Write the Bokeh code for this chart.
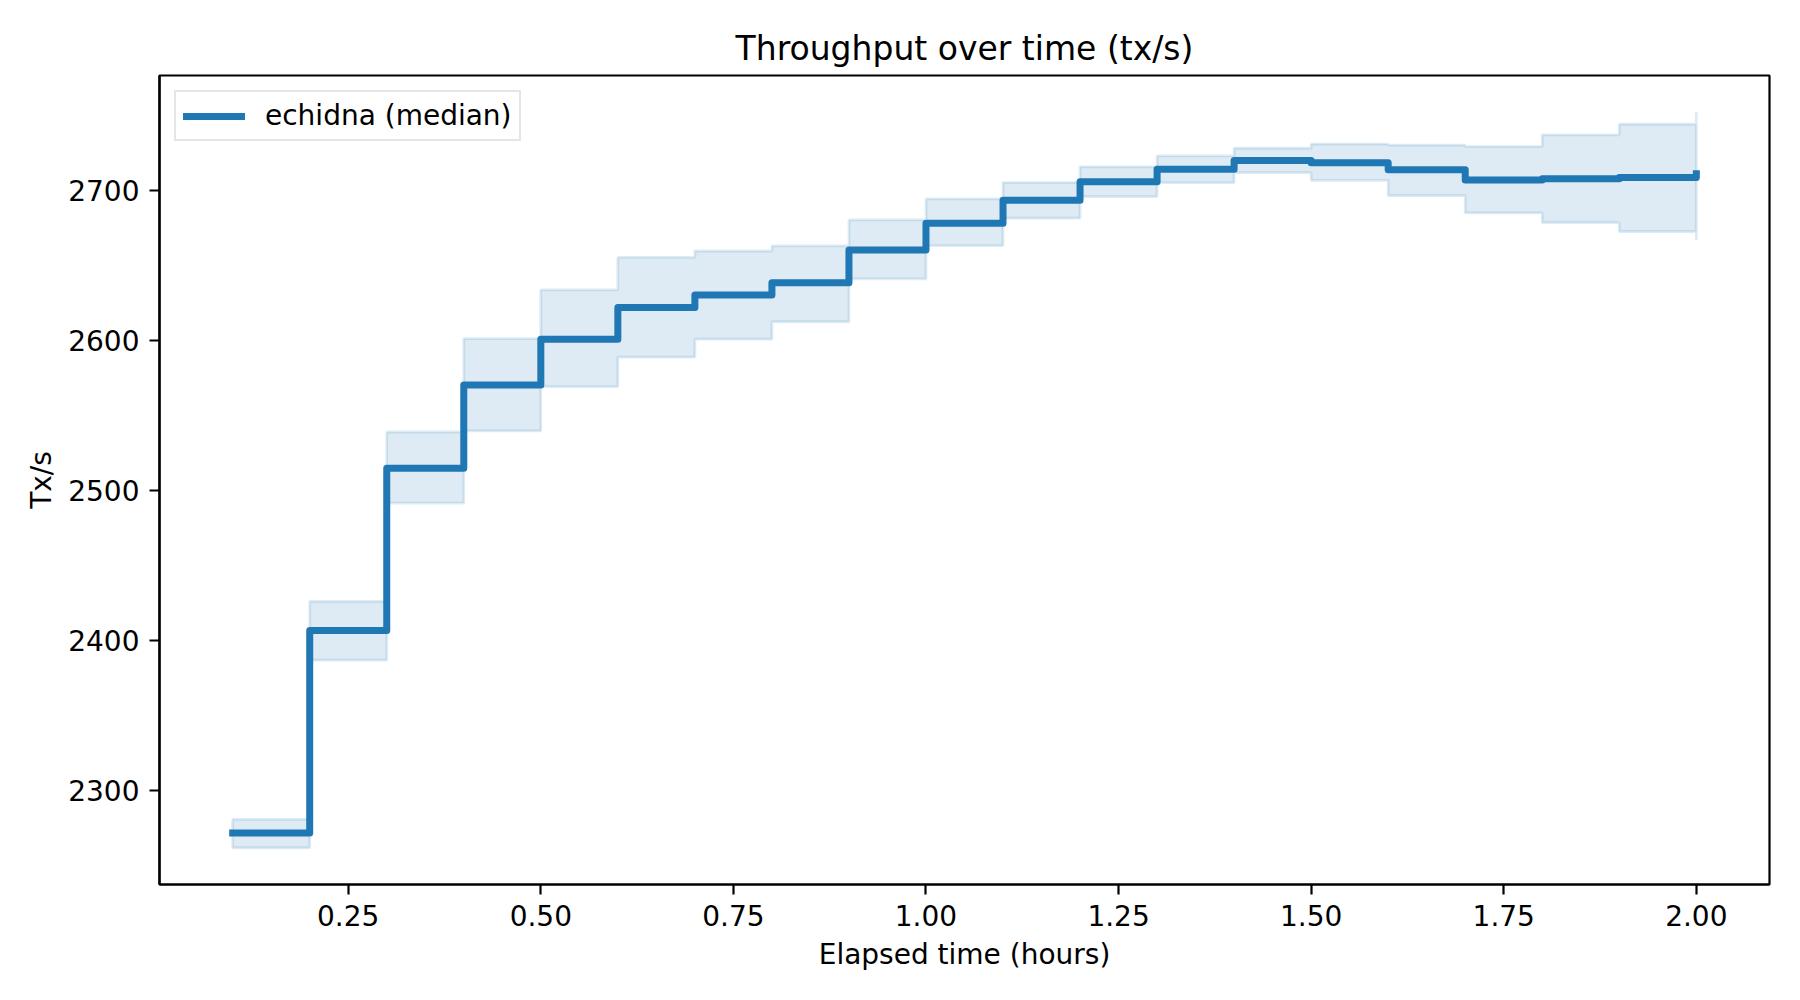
import numpy as np
from bokeh.plotting import figure
from bokeh.models import Range1d, FixedTicker, NumeralTickFormatter
from bokeh.embed import file_html
from bokeh.resources import INLINE

# ---- data ----
hours = [0.1, 0.2, 0.3, 0.4, 0.5, 0.6, 0.7, 0.8, 0.9, 1.0,
         1.1, 1.2, 1.3, 1.4, 1.5, 1.6, 1.7, 1.8, 1.9, 2.0]
median_tps = [2271.6, 2406.7, 2514.9, 2570.3, 2600.9, 2622.0, 2630.3, 2638.5, 2660.4, 2678.2,
              2693.6, 2705.8, 2714.2, 2720.0, 2718.5, 2713.8, 2707.1, 2707.8, 2708.7, 2711.2]
upper_tps = [2280.7, 2426.0, 2539.0, 2601.2, 2633.7, 2655.4, 2659.7, 2663.1, 2680.4, 2694.4,
             2705.3, 2715.8, 2723.1, 2728.2, 2731.0, 2730.3, 2729.3, 2737.1, 2744.2, 2752.2]
lower_tps = [2261.8, 2386.9, 2491.6, 2539.7, 2569.3, 2588.9, 2600.9, 2612.5, 2641.1, 2663.3,
             2681.6, 2696.0, 2705.3, 2712.0, 2706.8, 2696.7, 2685.1, 2678.7, 2672.7, 2667.1]

x_ticks = [0.25, 0.50, 0.75, 1.00, 1.25, 1.50, 1.75, 2.00]
y_ticks = [2300, 2400, 2500, 2600, 2700]

title_text = "Throughput over time (tx/s)"
x_label = "Elapsed time (hours)"
y_label = "Tx/s"
series_label = "echidna (median)"

BLUE = "#1f77b4"
FONT = "DejaVu Sans"

p = figure(width=1784, height=984, output_backend="svg", toolbar_location=None,
           x_range=Range1d(0.005, 2.095), y_range=Range1d(2237.3, 2776.7),
           min_border_left=159, min_border_right=15, min_border_top=75,
           min_border_bottom=100, background_fill_color="white",
           border_fill_color="white")

# band: step-post polygon built from the arrays
h = np.array(hours)
up = np.array(upper_tps)
lo = np.array(lower_tps)
px = np.repeat(h, 2)[1:]
uy = np.repeat(up, 2)[:-1]
ly = np.repeat(lo, 2)[:-1]
poly_x = np.concatenate([px, px[::-1]])
poly_y = np.concatenate([uy, ly[::-1]])
p.patch(poly_x, poly_y, fill_color=BLUE, fill_alpha=0.15,
        line_color=BLUE, line_alpha=0.15, line_width=2.8)

p.step(hours, median_tps, mode="after", line_width=7, line_color=BLUE,
       line_cap="square", line_join="round", legend_label=series_label)

# title
p.title.text = title_text
p.title.align = "center"
p.title.text_font = FONT
p.title.text_font_size = "33px"
p.title.text_font_style = "normal"
p.title.text_color = "black"
p.title.standoff = 15

# axes
p.xaxis.ticker = FixedTicker(ticks=x_ticks)
p.xaxis.formatter = NumeralTickFormatter(format="0.00")
p.yaxis.ticker = FixedTicker(ticks=y_ticks)
p.xaxis.axis_label = x_label
p.yaxis.axis_label = y_label
for ax in (p.xaxis[0], p.yaxis[0]):
    ax.axis_label_text_font = FONT
    ax.axis_label_text_font_size = "28px"
    ax.axis_label_text_font_style = "normal"
    ax.axis_label_text_color = "black"
    ax.major_label_text_font = FONT
    ax.major_label_text_font_size = "28px"
    ax.major_label_text_color = "black"
    ax.minor_tick_line_color = None
    ax.major_tick_in = 0
    ax.major_tick_out = 10
    ax.major_tick_line_width = 2.2
    ax.major_tick_line_color = "black"
    ax.axis_line_width = 2.2
    ax.axis_line_color = "black"
    ax.major_label_standoff = 10
p.xaxis[0].axis_label_standoff = 9
p.yaxis[0].axis_label_standoff = 7

p.xgrid.visible = False
p.ygrid.visible = False
p.outline_line_color = "black"
p.outline_line_width = 2.2
p.outline_line_alpha = 1.0

# legend
lg = p.legend[0]
lg.location = "top_left"
lg.margin = 15
lg.padding = 7
lg.glyph_width = 62
lg.glyph_height = 28
lg.label_standoff = 20
lg.label_text_font = FONT
lg.label_text_font_size = "28px"
lg.label_text_color = "black"
lg.label_height = 28
lg.border_line_color = "#cccccc"
lg.border_line_width = 2.2
lg.background_fill_alpha = 0.8

open("out.html", "w").write(file_html(p, INLINE))
